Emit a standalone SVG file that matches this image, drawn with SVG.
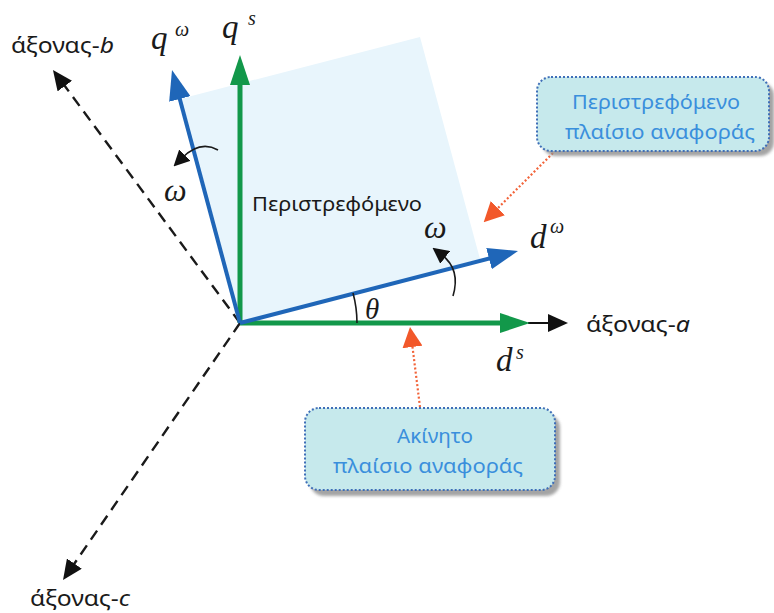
<svg xmlns="http://www.w3.org/2000/svg" width="774" height="613" viewBox="0 0 774 613">
<style>
.green{stroke:#12984a;stroke-width:5;fill:none}
.blue{stroke:#1f66b8;stroke-width:4;fill:none}
.dash{stroke:#1a1a1a;stroke-width:2.4;stroke-dasharray:11 7;fill:none}
.thin{stroke:#1a1a1a;stroke-width:1.6;fill:none}
.red{stroke:#f2643a;stroke-width:2.2;stroke-dasharray:2 2.2;fill:none}
.math{font-family:"Liberation Serif",serif;font-style:italic;fill:#1a1a1a}
.lbl{font-family:"Noto Sans","Open Sans",sans-serif;fill:#1a1a1a}
.call{font-family:"Noto Sans","Open Sans",sans-serif;font-size:20px;fill:#3a8fdc}
.box{fill:#c6e9ec;stroke:#3f6fb8;stroke-width:2;stroke-dasharray:2 2}
.shadow{fill:#8e8e8e;opacity:0.8}
</style>
<defs>
<marker id="mg" markerUnits="userSpaceOnUse" markerWidth="30" markerHeight="20" refX="15" refY="10" orient="auto"><path d="M0,0 L30,10 L0,20 z" fill="#12984a"/></marker>
<marker id="mb" markerUnits="userSpaceOnUse" markerWidth="30" markerHeight="22" refX="15" refY="11" orient="auto"><path d="M0,0 L30,11 L0,22 z" fill="#1f66b8"/></marker>
<marker id="mk" markerUnits="userSpaceOnUse" markerWidth="20" markerHeight="18" refX="10" refY="9" orient="auto"><path d="M0,0 L20,9 L0,18 z" fill="#111"/></marker>
<marker id="mks" markerUnits="userSpaceOnUse" markerWidth="16" markerHeight="16" refX="4" refY="8" orient="auto"><path d="M0,0 L16,8 L0,16 z" fill="#111"/></marker>
<marker id="mr" markerUnits="userSpaceOnUse" markerWidth="20" markerHeight="20" refX="4" refY="10" orient="auto"><path d="M0,0 L20,10 L0,20 z" fill="#f2582a"/></marker>
<filter id="blur" x="-10%" y="-10%" width="120%" height="130%"><feGaussianBlur stdDeviation="1.5"/></filter>
</defs>

<g id="frame-square">
<polygon points="240,323 480,259 420,37 180,99" fill="#e8f5fc"/>
<text class="lbl" x="252" y="211" font-size="20" textLength="170" lengthAdjust="spacingAndGlyphs">Περιστρεφόμενο</text>
</g>

<g id="connectors">
<path class="dash" d="M240,323 L58.9,78" marker-end="url(#mk)"/>
<path class="dash" d="M240,323 L68.7,571.8" marker-end="url(#mk)"/>
<path d="M528,323 L558,323" stroke="#111" stroke-width="2" fill="none" marker-end="url(#mk)"/>
<path class="green" d="M240,323 L515,323" marker-end="url(#mg)"/>
<path class="green" d="M240,323 L240,70" marker-end="url(#mg)"/>
<path class="blue" d="M240,323 L175.9,84.5" marker-end="url(#mb)"/>
<path class="blue" d="M240,323 L503.5,254.8" marker-end="url(#mb)"/>
<path class="thin" d="M353,293 A117,117 0 0 1 357,323"/>
<path class="thin" d="M218,150 Q200,140 182,158" marker-end="url(#mks)"/>
<path class="thin" d="M453,296 C458,279 455,265 442,255" marker-end="url(#mks)"/>
<path class="red" d="M553,153 L495,211" marker-end="url(#mr)"/>
<path class="red" d="M420,407 L412,343" marker-end="url(#mr)"/>
</g>

<g id="labels">
<text class="lbl" x="11" y="53" font-size="21" textLength="103" lengthAdjust="spacingAndGlyphs">άξονας-<tspan font-style="italic">b</tspan></text>
<text class="lbl" x="30" y="606" font-size="21" textLength="100" lengthAdjust="spacingAndGlyphs">άξονας-<tspan font-style="italic">c</tspan></text>
<text class="lbl" x="586" y="332" font-size="21" textLength="104" lengthAdjust="spacingAndGlyphs">άξονας-<tspan font-style="italic">a</tspan></text>
<text class="math" x="151" y="49" font-size="33">q</text>
<text class="math" x="175" y="36" font-size="20">ω</text>
<text class="math" x="222" y="38" font-size="33">q</text>
<text class="math" x="248" y="25" font-size="20">s</text>
<text class="math" x="530" y="248" font-size="33">d</text>
<text class="math" x="550" y="233" font-size="20">ω</text>
<text class="math" x="496" y="371" font-size="33">d</text>
<text class="math" x="516" y="359" font-size="20">s</text>
<text class="math" x="365" y="319" font-size="29">θ</text>
<text class="math" x="164" y="201" font-size="32">ω</text>
<text class="math" x="424" y="238" font-size="32">ω</text>
</g>

<g id="callout-rotating">
<rect class="shadow" x="542" y="82" width="232" height="74" rx="14" filter="url(#blur)"/>
<rect class="box" x="537" y="77" width="232" height="74" rx="14"/>
<text class="call" x="572" y="109" textLength="168" lengthAdjust="spacingAndGlyphs">Περιστρεφόμενο</text>
<text class="call" x="565" y="139" textLength="190" lengthAdjust="spacingAndGlyphs">πλαίσιο αναφοράς</text>
</g>

<g id="callout-stationary">
<rect class="shadow" x="310" y="414" width="250" height="82" rx="14" filter="url(#blur)"/>
<rect class="box" x="305" y="408" width="250" height="82" rx="14"/>
<text class="call" x="397" y="443" textLength="76" lengthAdjust="spacingAndGlyphs">Ακίνητο</text>
<text class="call" x="333" y="473" textLength="190" lengthAdjust="spacingAndGlyphs">πλαίσιο αναφοράς</text>
</g>
</svg>
